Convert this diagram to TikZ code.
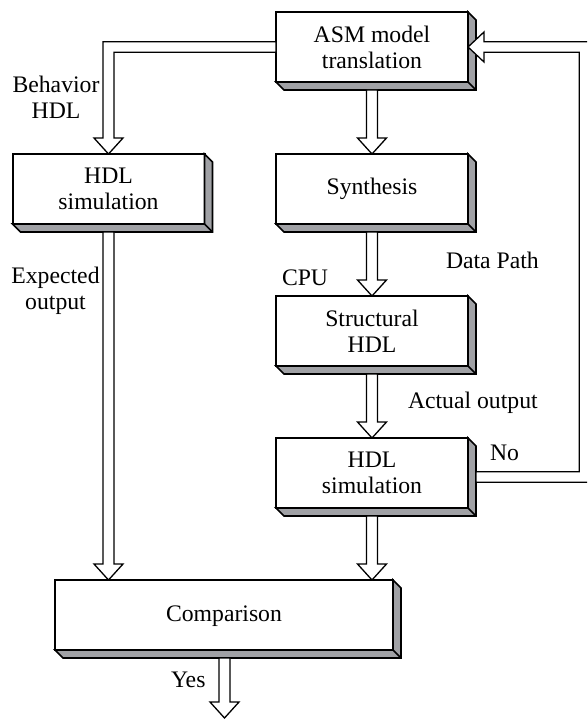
\documentclass[tikz,border=0pt]{standalone}
\usepackage{fontspec}
\setmainfont{Liberation Serif}
\usetikzlibrary{calc}
\definecolor{shade}{RGB}{160,161,165}
\tikzset{
  box/.style={draw, line width=2pt, fill=white, minimum width=192pt, minimum height=70pt,
    inner sep=0pt, outer sep=0pt, align=center, font=\fontsize{23.7}{26}\selectfont},
  twoline/.style={execute at begin node={\rule{0pt}{19.5pt}}},
  lowline/.style={execute at begin node={\rule{0pt}{18.5pt}}},
  lbl/.style={inner sep=0pt, outer sep=0pt, font=\fontsize{23.7}{26}\selectfont},
  fat/.style={draw, line width=1.3pt, fill=white, line join=miter},
  shadowpart/.style={draw, line width=1.6pt, fill=shade, line join=miter}
}
\newcommand\boxshadow[1]{%
  \path[shadowpart] (#1.north east) -- ++(8,8) -- ($(#1.south east)+(8,8)$)
    -- ($(#1.south west)+(8,8)$) -- (#1.south west) -- (#1.south east) -- cycle;
  \draw[line width=1.6pt] (#1.south east) -- ++(8,8);}
\newcommand\fatdown[2]{%
  \path[fat] let \p1=(#1), \p2=(#2) in
   (\x1-5.5pt,\y1) -- (\x1-5.5pt,\y2+16pt) -- (\x1-14.5pt,\y2+16pt) -- (\x1,\y2)
   -- (\x1+14.5pt,\y2+16pt) -- (\x1+5.5pt,\y2+16pt) -- (\x1+5.5pt,\y1) -- cycle;}
\begin{document}
\begin{tikzpicture}[x=1pt,y=-1pt]
\useasboundingbox (0,0) rectangle (587,719);
\clip (0,0) rectangle (587,719);
% boxes
\node[box,twoline] (asm)  at (372,47)    {ASM model\\translation};
\node[box,twoline] (sim1) at (108.5,189) {HDL\\simulation};
\node[box] (syn)  at (372,189)   {Synthesis};
\node[box,twoline] (str)  at (372,331)   {Structural\\HDL};
\node[box,twoline] (sim2) at (372,473)   {HDL\\simulation};
\node[box,lowline, minimum width=338pt] (cmp) at (224,615) {Comparison};
\foreach \n in {asm,sim1,syn,str,sim2,cmp} {\boxshadow{\n}}
\coordinate (yesend) at ($(cmp.south)+(0.5,68)$);
\coordinate (loopx) at (584.5,0);
% connectors
\fatdown{$(asm.south)+(0,8)$}{syn.north}
\fatdown{$(syn.south)+(0,8)$}{str.north}
\fatdown{$(str.south)+(0,8)$}{sim2.north}
\fatdown{$(sim1.south)+(0,8)$}{sim1.south |- cmp.north}
\fatdown{$(sim2.south)+(0,8)$}{sim2.south |- cmp.north}
\fatdown{$(cmp.south)+(0.5,8)$}{yesend}
% ASM -> left HDL simulation
\path[fat] let \p1=(asm.west), \p2=(sim1.north) in
  (\x1,\y1+5.3pt) -- (\x2-5.5pt,\y1+5.3pt) -- (\x2-5.5pt,\y2+16pt) -- (\x2-14.5pt,\y2+16pt)
  -- (\x2,\y2) -- (\x2+14.5pt,\y2+16pt) -- (\x2+5.5pt,\y2+16pt) -- (\x2+5.5pt,\y1-5.3pt)
  -- (\x1,\y1-5.3pt) -- cycle;
% feedback loop (No)
\path[fat] let \p1=($(sim2.east)+(8,4)$), \p2=(asm.east), \p3=(loopx) in
  (\x1,\y1+5.3pt) -- (\x3-5.3pt,\y1+5.3pt) -- (\x3-5.3pt,\y2-5.3pt) -- (\x2+16pt,\y2-5.3pt)
  -- (\x2+16pt,\y2-15pt) -- (\x2,\y2) -- (\x2+16pt,\y2+15pt) -- (\x2+16pt,\y2+5.3pt)
  -- (\x3+5.3pt,\y2+5.3pt) -- (\x3+5.3pt,\y1-5.3pt) -- (\x1,\y1-5.3pt) -- cycle;
% labels
\node[lbl, anchor=base] (lbeh) at (56,93) {\begin{tabular}[t]{@{}c@{}}Behavior\\HDL\end{tabular}};
\node[lbl, anchor=base] (lexp) at (55.5,283) {\begin{tabular}[t]{@{}c@{}}Expected\\output\end{tabular}};
\node[lbl, anchor=base west] (lcpu) at (282,285) {CPU};
\node[lbl, anchor=base west] (ldp) at (446,268) {Data Path};
\node[lbl, anchor=base west] (lact) at (408,408) {Actual output};
\node[lbl, anchor=base west] (lno) at (490,460) {No};
\node[lbl, anchor=base west] (lyes) at (171,687) {Yes};
\end{tikzpicture}
\end{document}
